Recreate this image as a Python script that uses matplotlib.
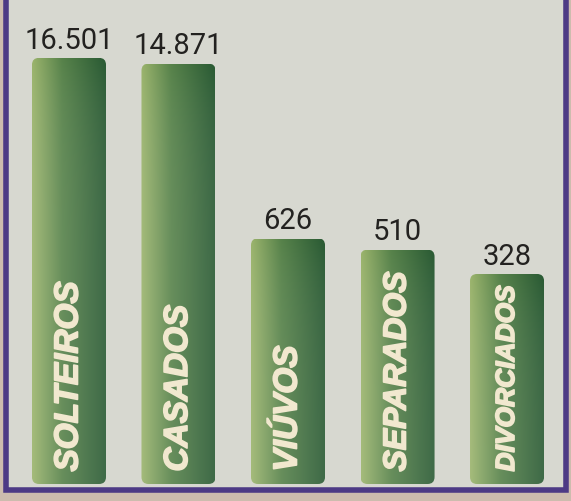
import numpy as np
import matplotlib
matplotlib.use("Agg")
from matplotlib import pyplot as plt
from matplotlib import patheffects
from matplotlib.patches import FancyBboxPatch, Rectangle
from matplotlib.transforms import IdentityTransform

categories = ["SOLTEIROS", "CASADOS", "VIÚVOS", "SEPARADOS", "DIVORCIADOS"]
values = [16501, 14871, 626, 510, 328]
label_sizes = [24, 24, 24, 23, 19]

W, H = 571, 502
fig = plt.figure(figsize=(W / 100, H / 100), dpi=100)
fig.patch.set_facecolor("#cdbcae")

# panel with purple frame, kept behind the axes
frame = Rectangle((5.5, 11.5), 560, 500, transform=IdentityTransform(),
                  facecolor="#d7d8d0", edgecolor="#4d3a85", linewidth=4, zorder=-1)
fig.patches.append(frame)

ax = fig.add_axes([0, 17 / H, 1, 485 / H])
ax.set_facecolor("none")
ax.set_yscale("log")
ymin, ymax = 7.28, 47970
ax.set_ylim(ymin, ymax)
ax.set_xlim(-0.630, 4.584)
ax.axis("off")

x = np.arange(len(values))
bars = ax.bar(x, [v - ymin for v in values], bottom=ymin, width=0.676, alpha=0)

# gradient: light olive on the left, dark green on the right
left = np.array([0.60, 0.70, 0.42])
mid = np.array([0.34, 0.51, 0.29])
right = np.array([0.16, 0.35, 0.20])
t = np.linspace(0, 1, 64)
row = np.where(t[:, None] < 0.4,
               left + (mid - left) * (t[:, None] / 0.4),
               mid + (right - mid) * ((t[:, None] - 0.4) / 0.6))
vert = np.linspace(0.0, 0.10, 32)[:, None, None]
grad = np.clip(row[None, :, :] + vert * (1 - row[None, :, :]), 0, 1)

for b, v in zip(bars, values):
    x0, x1 = b.get_x(), b.get_x() + b.get_width()
    (px0, py0), (px1, py1) = ax.transData.transform([(x0, ymin), (x1, v)])
    clip = FancyBboxPatch((px0, py0), px1 - px0, py1 - py0,
                          boxstyle="round,pad=0,rounding_size=7",
                          transform=IdentityTransform())
    im = ax.imshow(grad, extent=(x0, x1, ymin, v), origin="upper", aspect="auto",
                   interpolation="bilinear", zorder=2)
    im.set_clip_path(clip)

for xi, v in zip(x, values):
    ax.annotate(f"{v:,}".replace(",", "."), xy=(xi, v), xytext=(0, 3),
                textcoords="offset points", ha="center", va="bottom",
                fontsize=21, family="Roboto", color="#232220", zorder=3)

thick = [patheffects.withStroke(linewidth=1.2, foreground="#f1e8cf")]
for xi, c, fs in zip(x, categories, label_sizes):
    ax.annotate(c, xy=(xi, ymin), xytext=(0, 9), textcoords="offset points",
                rotation=90, ha="center", va="bottom", fontsize=fs,
                family="Liberation Sans", fontweight="bold", fontstyle="italic",
                color="#f1e8cf", zorder=3, path_effects=thick)

fig.savefig("out.png", dpi=100, facecolor=fig.get_facecolor())
